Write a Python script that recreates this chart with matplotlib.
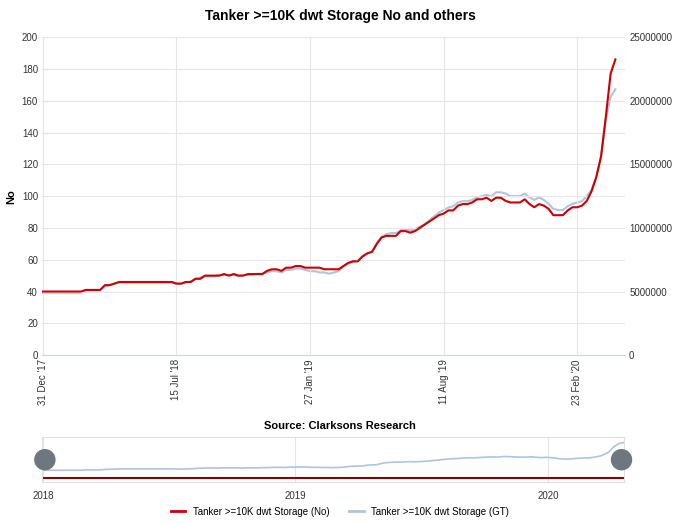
import matplotlib
matplotlib.use("Agg")
import matplotlib.pyplot as plt
import numpy as np
from matplotlib.lines import Line2D

plt.rcParams['font.family'] = ['Liberation Sans', 'DejaVu Sans']
start = np.datetime64('2017-12-31')
storage_no = ([40]*9 + [41]*4 + [44,44,45] + [46]*12 +
    [45,45,46,46,48,48,50,50,50,50,51,50,51,50,50,51,51,51,51,53,54,54,53,55,55,56,56,55] +
    [55,55,55,54,54,54,54,56,58,59,59,62,64,65,70,74,75,75,75,78,78,77,78,80,82,84,86,88] +
    [89,91,91,94,95,95,96,98,98,99,97,99,99,97,96,96,96,98,95,93,95,94,92,88,88,88,91,93] +
    [93,94,97,103,112,125,150,177,186])
storage_gt_m = ([4.9]*9 + [5.1]*4 + [5.4,5.5,5.6] + [5.7]*12 +
    [5.6,5.6,5.7,5.8,6.0,6.1,6.2,6.2,6.2,6.3,6.3,6.3,6.3,6.2,6.3,6.3,6.3,6.4,6.4,6.5,6.6,6.6,6.5,6.7,6.7,6.8,6.8,6.7] +
    [6.6,6.6,6.5,6.5,6.4,6.5,6.6,7.0,7.2,7.3,7.4,7.8,8.0,8.1,8.8,9.3,9.5,9.6,9.6,9.8,9.9,9.8,9.9,10.1,10.3,10.6,10.9,11.2] +
    [11.4,11.6,11.7,12.0,12.1,12.1,12.2,12.4,12.5,12.6,12.5,12.8,12.8,12.7,12.5,12.5,12.5,12.7,12.4,12.2,12.4,12.2,11.9,11.5,11.4,11.4,11.7,11.9] +
    [12.0,12.1,12.5,13.0,14.0,15.6,18.5,20.3,20.9])
tick_labels = ["31 Dec '17", "15 Jul '18", "27 Jan '19", "11 Aug '19", "23 Feb '20"]

dates = start + np.arange(len(storage_no)) * np.timedelta64(7, 'D')
gt = np.array(storage_gt_m) * 1e6
RED = '#cc0000'; BLUE = '#b0c4de'

fig = plt.figure(figsize=(6.8, 5.23), dpi=100)
ax = fig.add_axes([0.062, 0.321, 0.857, 0.608])
ax2 = ax.twinx()
ax2.plot(dates, gt, color=BLUE, lw=1.5)
ax.plot(dates, storage_no, color=RED, lw=1.5, zorder=3)
ax.set_zorder(ax2.get_zorder() + 1); ax.patch.set_visible(False)
ax.set_ylim(0, 200); ax2.set_ylim(0, 25e6)
ax.set_yticks(range(0, 201, 20)); ax2.set_yticks(np.arange(0, 25e6 + 1, 5e6))
ax2.set_yticklabels([f"{int(v)}" for v in np.arange(0, 25e6 + 1, 5e6)])
x0 = start - np.timedelta64(1, 'D'); x1 = start + np.timedelta64(7*122, 'D')
ax.set_xlim(x0, x1)
ticks = [start + np.timedelta64(196*i, 'D') for i in range(5)]
ax.set_xticks(ticks); ax.set_xticklabels(tick_labels, rotation=90, fontsize=7)
ax.grid(True, color='#e6e6e6', lw=0.8)
for a in (ax, ax2):
    for s in a.spines.values(): s.set_visible(False)
    a.tick_params(length=0, labelsize=7, colors='#333333', pad=3)
ax.spines['bottom'].set_visible(True); ax.spines['bottom'].set_color('#ccd6eb')
ax.set_ylabel('No', fontsize=8, fontweight='bold', labelpad=4)
fig.text(0.5, 0.962, 'Tanker >=10K dwt Storage No and others', ha='center', fontsize=10, fontweight='bold')
fig.text(0.5, 0.18, 'Source: Clarksons Research', ha='center', fontsize=8, fontweight='bold')

nav = fig.add_axes([0.062, 0.078, 0.856, 0.086])
nav.plot(dates, gt, color=BLUE, lw=1.2)
nav.axhline(0.2e6, color='#8b0000', lw=1.5)
nav.set_xlim(np.datetime64('2017-12-31'), np.datetime64('2020-04-20'))
nav.set_ylim(-2e6, 24e6)
nav.set_yticks([])
yt = [np.datetime64(f'{y}-01-01') for y in (2018, 2019, 2020)]
nav.set_xticks(yt); nav.set_xticklabels(['2018', '2019', '2020'], fontsize=7)
nav.tick_params(length=0, pad=6, colors='#333333')
nav.grid(True, axis='x', color='#e6e6e6')
for s in nav.spines.values(): s.set_color('#e0e0e0')
for xf in (0.066, 0.914):
    fig.add_artist(plt.Circle((xf*6.8*100, 0.121*523), 10, transform=None, color='#6e7680', zorder=10))

handles = [Line2D([], [], color=RED, lw=2), Line2D([], [], color=BLUE, lw=2)]
fig.legend(handles, ['Tanker >=10K dwt Storage (No)', 'Tanker >=10K dwt Storage (GT)'],
           loc='lower center', bbox_to_anchor=(0.5, -0.005), ncol=2, frameon=False, fontsize=7, handlelength=1.5)
fig.savefig('out.png', dpi=100)
